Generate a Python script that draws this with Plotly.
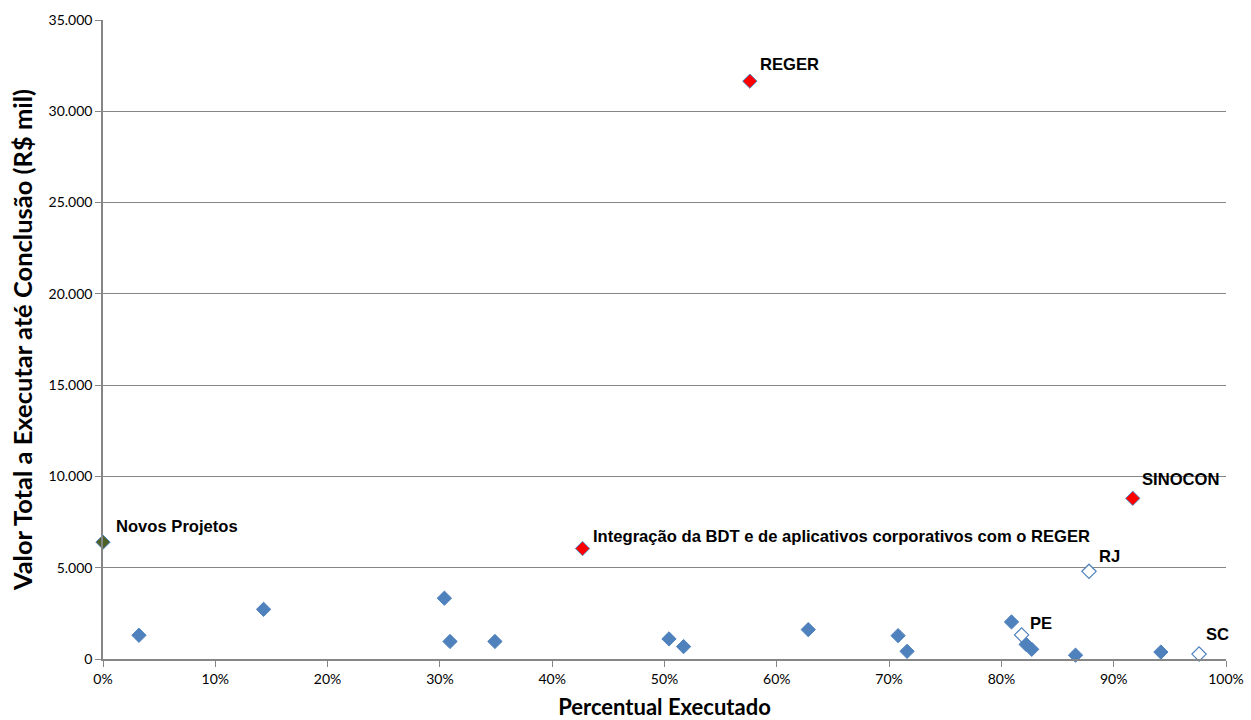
import plotly.graph_objects as go

# Projetos: percentual executado (%) e valor a executar até a conclusão (R$ mil)
pct_executado = [0.0, 3.2, 14.3, 30.4, 30.9, 34.9, 50.4, 51.7, 62.8, 70.8, 71.6,
                 80.9, 82.2, 82.7, 86.6, 94.2,
                 42.7, 57.6, 91.7,
                 81.8, 87.8, 97.6]
valor_executar = [6400, 1300, 2720, 3330, 960, 960, 1100, 680, 1610, 1280, 420,
                  2030, 800, 530, 210, 380,
                  6050, 31650, 8800,
                  1320, 4800, 270]
nome = ["Novos Projetos", "", "", "", "", "", "", "", "", "", "",
        "", "", "", "", "",
        "Integração da BDT e de aplicativos corporativos com o REGER", "REGER", "SINOCON",
        "PE", "RJ", "SC"]
grupo = ["novo", "base", "base", "base", "base", "base", "base", "base", "base", "base", "base",
         "base", "base", "base", "base", "base",
         "destaque", "destaque", "destaque",
         "estado", "estado", "estado"]

AZUL = "#4F81BD"
estilos = {
    "base": dict(color=AZUL, line=dict(color=AZUL, width=1)),
    "destaque": dict(color="#FF0000", line=dict(color=AZUL, width=1)),
    "estado": dict(color="#FFFFFF", line=dict(color=AZUL, width=1.2)),
    "novo": dict(color="#4F6228", line=dict(color=AZUL, width=1)),
}

# deslocamento dos rótulos (px) em relação ao marcador
desloc = {
    "Novos Projetos": (11, 16),
    "Integração da BDT e de aplicativos corporativos com o REGER": (8, 12),
    "REGER": (8, 17),
    "SINOCON": (7, 19),
    "PE": (6, 11),
    "RJ": (8, 15),
    "SC": (5, 20),
}

fig = go.Figure()
for g in ["base", "destaque", "estado", "novo"]:
    idx = [i for i, v in enumerate(grupo) if v == g]
    fig.add_trace(go.Scatter(
        x=[pct_executado[i] for i in idx],
        y=[valor_executar[i] for i in idx],
        mode="markers",
        marker=dict(symbol="diamond", size=11, **estilos[g]),
        cliponaxis=False,
        showlegend=False,
    ))

for x, y, n in zip(pct_executado, valor_executar, nome):
    if not n:
        continue
    dx, dy = desloc[n]
    fig.add_annotation(
        x=x, y=y, text=n, showarrow=False,
        xanchor="left", yanchor="middle", xshift=dx, yshift=dy,
        font=dict(family="Liberation Sans Narrow, Arial Narrow, Liberation Sans", size=16.6,
                  color="#000000", weight="bold"),
    )

fig.update_layout(
    width=1251, height=720,
    margin=dict(l=103, r=25, t=20, b=61),
    paper_bgcolor="white", plot_bgcolor="white",
    separators=",.",
    font=dict(family="Lato, Open Sans, sans-serif", size=14, color="#000000"),
)
fig.update_xaxes(
    range=[0, 100], dtick=10, ticksuffix="%",
    showgrid=False, zeroline=False, automargin=False,
    showline=True, linecolor="#868686", linewidth=1.5,
    ticks="outside", ticklen=6, tickcolor="#868686",
    tickfont=dict(size=14),
    title=dict(text="Percentual Executado", standoff=15,
               font=dict(size=22, weight="bold")),
)
fig.update_yaxes(
    range=[0, 35000], dtick=5000, tickformat=",.0f",
    showgrid=True, gridcolor="#868686", gridwidth=1,
    zeroline=False, automargin=False,
    showline=True, linecolor="#868686", linewidth=1.5,
    ticks="outside", ticklen=6, tickcolor="#868686",
    tickfont=dict(size=14),
    title=dict(text="Valor Total a Executar até Conclusão (R$ mil)", standoff=9,
               font=dict(size=25.5, weight="bold")),
)

fig.write_html("out.html")
